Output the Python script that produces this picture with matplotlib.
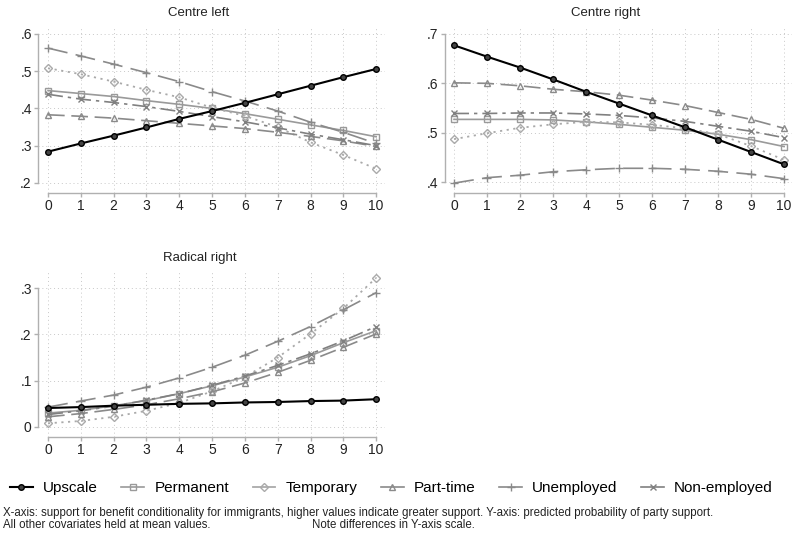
import numpy as np
import matplotlib
matplotlib.use('Agg')
import matplotlib.pyplot as plt
from matplotlib.lines import Line2D

plt.rcParams['font.family'] = ['Liberation Sans', 'DejaVu Sans']

x = np.arange(11)
groups = ['Upscale', 'Permanent', 'Temporary', 'Part-time', 'Unemployed', 'Non-employed']

# predicted probabilities
centre_left = {
    'Upscale':      [.284, .306, .327, .349, .372, .393, .415, .438, .461, .484, .506],
    'Permanent':    [.448, .440, .432, .421, .411, .400, .386, .371, .356, .341, .324],
    'Temporary':    [.508, .492, .472, .450, .430, .402, .380, .350, .309, .275, .238],
    'Part-time':    [.383, .379, .374, .367, .360, .353, .346, .336, .325, .313, .298],
    'Unemployed':   [.562, .541, .519, .496, .472, .445, .420, .393, .363, .336, .306],
    'Non-employed': [.438, .425, .416, .405, .392, .378, .364, .348, .331, .316, .300],
}
centre_right = {
    'Upscale':      [.677, .654, .632, .608, .583, .559, .535, .511, .486, .461, .436],
    'Permanent':    [.527, .527, .527, .526, .522, .517, .511, .505, .497, .486, .472],
    'Temporary':    [.487, .499, .510, .517, .522, .521, .516, .509, .497, .473, .445],
    'Part-time':    [.601, .600, .595, .588, .583, .576, .566, .555, .541, .527, .509],
    'Unemployed':   [.398, .409, .414, .421, .425, .428, .428, .426, .422, .416, .407],
    'Non-employed': [.539, .539, .540, .540, .538, .535, .530, .523, .513, .503, .490],
}
radical_right = {
    'Upscale':      [.041, .043, .046, .048, .050, .051, .053, .054, .056, .057, .060],
    'Permanent':    [.030, .036, .046, .057, .072, .089, .108, .129, .154, .182, .208],
    'Temporary':    [.008, .013, .022, .035, .052, .077, .108, .150, .201, .256, .322],
    'Part-time':    [.022, .029, .038, .048, .061, .076, .095, .118, .144, .172, .201],
    'Unemployed':   [.043, .056, .069, .086, .106, .129, .155, .185, .217, .253, .290],
    'Non-employed': [.027, .035, .045, .058, .072, .090, .110, .133, .158, .186, .217],
}

styles = {
    'Upscale':      dict(color='black', lw=1.5, ls='-', marker='o', ms=4, mfc='#444444'),
    'Permanent':    dict(color='#9a9a9a', lw=1.2, ls='-', marker='s', ms=5, mfc='none'),
    'Temporary':    dict(color='#aaaaaa', lw=1.3, ls=(0, (1.2, 2.5)), marker='D', ms=4.5, mfc='none'),
    'Part-time':    dict(color='#8a8a8a', lw=1.2, ls=(0, (10, 4)), marker='^', ms=5, mfc='none'),
    'Unemployed':   dict(color='#8a8a8a', lw=1.2, ls=(0, (12, 5)), marker='+', ms=6, mfc='none'),
    'Non-employed': dict(color='#808080', lw=1.2, ls=(0, (9, 3, 2, 3)), marker='x', ms=4, mfc='none'),
}

W, H = 792, 534
fig = plt.figure(figsize=(W / 100, H / 100), dpi=100)


def panel(left, bottom, width, height, data, yticks, ylabels, ylim, xlim):
    ax = fig.add_axes([left / W, 1 - bottom / H, width / W, height / H])
    for g in groups:
        st = styles[g]
        ax.plot(x, data[g], color=st['color'], lw=st['lw'], ls=st['ls'], marker=st['marker'],
                ms=st['ms'], mfc=st['mfc'], mec=st['color'], mew=1.0, zorder=3 if g == 'Upscale' else 2)
    ax.set_xlim(*xlim)
    ax.set_ylim(*ylim)
    ax.set_xticks(x)
    ax.set_yticks(yticks)
    ax.set_yticklabels(ylabels)
    ax.grid(True, ls=(0, (1, 3)), color='#c8c8c8', lw=0.7)
    ax.set_axisbelow(True)
    for s in ['top', 'right']:
        ax.spines[s].set_visible(False)
    ax.spines['bottom'].set_bounds(0, 10)
    ax.spines['left'].set_bounds(yticks[0], yticks[-1])
    for s in ['bottom', 'left']:
        ax.spines[s].set_color('#b0b0b0')
        ax.spines[s].set_linewidth(1.0)
    ax.tick_params(length=3, width=1.0, color='#b0b0b0', labelsize=10, labelcolor='#222222', pad=1.5)
    return ax


panel(38, 193, 347, 165, centre_left, [.2, .3, .4, .5, .6], ['.2', '.3', '.4', '.5', '.6'],
      (.173, .616), (-0.305, 10.27))
panel(445, 193, 347, 165, centre_right, [.4, .5, .6, .7], ['.4', '.5', '.6', '.7'],
      (.378, .712), (-0.273, 10.24))
panel(38, 437, 347, 167, radical_right, [0, .1, .2, .3], ['0', '.1', '.2', '.3'],
      (-.0216, .339), (-0.305, 10.27))

fig.text(199 / W, 1 - 13 / H, 'Centre left', ha='center', va='center', fontsize=9.5, color='#222222')
fig.text(606 / W, 1 - 13 / H, 'Centre right', ha='center', va='center', fontsize=9.5, color='#222222')
fig.text(200 / W, 1 - 258 / H, 'Radical right', ha='center', va='center', fontsize=9.5, color='#222222')

handles = [Line2D([], [], color=styles[g]['color'], lw=styles[g]['lw'], ls='-',
                  marker=styles[g]['marker'], ms=styles[g]['ms'], mfc=styles[g]['mfc'],
                  mec=styles[g]['color']) for g in groups]
fig.legend(handles, groups, loc='center left', bbox_to_anchor=(10 / W, 1 - 488 / H), ncol=6,
           frameon=False, fontsize=11, handlelength=1.5, handletextpad=0.65, columnspacing=1.55,
           borderaxespad=0, borderpad=0)

note_kw = dict(fontsize=8.3, va='baseline', color='#222222')
fig.text(3 / W, 1 - 516 / H,
         'X-axis: support for benefit conditionality for immigrants, higher values indicate greater support. '
         'Y-axis: predicted probability of party support.', **note_kw)
fig.text(3 / W, 1 - 528 / H, 'All other covariates held at mean values.', **note_kw)
fig.text(312 / W, 1 - 528 / H, 'Note differences in Y-axis scale.', **note_kw)

fig.savefig('out.png', dpi=100)
